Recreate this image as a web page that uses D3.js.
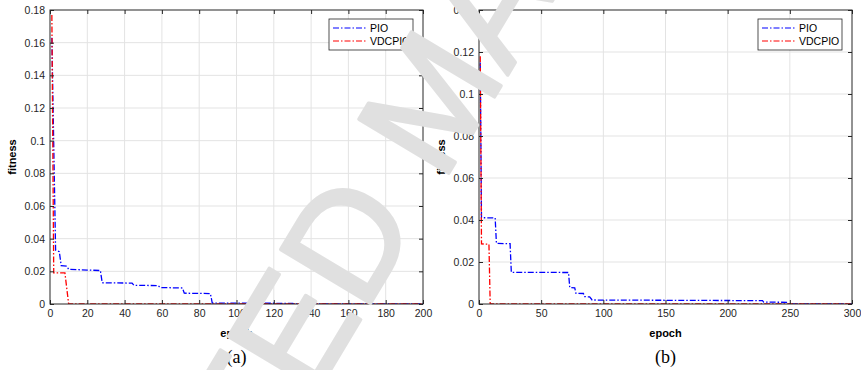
<!DOCTYPE html>
<html>
<head>
<meta charset="utf-8">
<script src="https://cdn.jsdelivr.net/npm/d3@7"></script>
<style>
  body { margin: 0; background: #fff; }
  text { font-family: "Liberation Sans", Arial, sans-serif; }
</style>
</head>
<body>
<div id="chart"></div>
<script>
const width = 861;
const height = 370;

// series data: [epoch, fitness] at each break point
const pioA = [[1,0.163],[3,0.033],[5,0.032],[6,0.0235],[9,0.0232],[10,0.0212],[20,0.0208],[27,0.0205],[28,0.013],[44,0.0128],[45,0.0114],[58,0.0113],[59,0.0101],[71,0.0098],[72,0.0066],[86,0.0064],[87,0.0006],[130,0.0004],[131,0.0001],[200,0.0001]];
const vdcA = [[1,0.177],[2,0.019],[8,0.019],[10,0],[200,0]];
const pioB = [[1,0.115],[2,0.0411],[13,0.041],[14,0.0289],[25,0.0287],[26,0.0151],[72,0.015],[73,0.0078],[77,0.0077],[78,0.0051],[84,0.005],[85,0.0035],[89,0.0034],[91,0.0019],[228,0.0016],[229,0.0009],[248,0.0008],[249,0.0001],[300,0.0001]];
const vdcB = [[1,0.118],[2,0.0286],[8,0.0285],[9,0],[300,0]];

const seriesNames = ["PIO", "VDCPIO"];
const seriesColors = ["#0000ff", "#ff0000"];

const xTicksA = d3.range(0, 201, 20);
const yTicksA = d3.range(0, 0.181, 0.02);
const xTicksB = d3.range(0, 301, 50);
const yTicksB = d3.range(0, 0.141, 0.02);

const panels = [
  { id: "a", left: 50, right: 423, xMax: 200, yMax: 0.18, xTicks: xTicksA, yTicks: yTicksA, series: [pioA, vdcA], caption: "(a)" },
  { id: "b", left: 479, right: 852, xMax: 300, yMax: 0.14, xTicks: xTicksB, yTicks: yTicksB, series: [pioB, vdcB], caption: "(b)" }
];
const plotTop = 10, plotBottom = 304;

const svg = d3.select("#chart")
    .append("svg")
    .attr("width", width)
    .attr("height", height);

const fmtY = d => d === 0 ? "0" : String(+d.toFixed(2));
const dash = "6,2,1.5,2";

panels.forEach(p => {
    const x = d3.scaleLinear().domain([0, p.xMax]).range([p.left, p.right]);
    const y = d3.scaleLinear().domain([0, p.yMax]).range([plotBottom, plotTop]);
    const g = svg.append("g");

    // grid
    g.append("g").selectAll("line").data(p.xTicks.slice(1, -1)).enter().append("line")
        .attr("x1", d => x(d)).attr("x2", d => x(d)).attr("y1", plotTop).attr("y2", plotBottom)
        .attr("stroke", "#e3e3e3").attr("stroke-width", 1);
    g.append("g").selectAll("line").data(p.yTicks.slice(1, -1)).enter().append("line")
        .attr("y1", d => y(d)).attr("y2", d => y(d)).attr("x1", p.left).attr("x2", p.right)
        .attr("stroke", "#e3e3e3").attr("stroke-width", 1);

    // lines
    g.append("clipPath").attr("id", "clip-" + p.id).append("rect")
        .attr("x", p.left).attr("y", plotTop).attr("width", p.right - p.left).attr("height", plotBottom - plotTop);
    const line = d3.line().x(d => x(d[0])).y(d => y(d[1]));
    p.series.forEach((s, i) => {
        g.append("path").datum(s)
            .attr("clip-path", `url(#clip-${p.id})`)
            .attr("d", line)
            .attr("fill", "none")
            .attr("stroke", seriesColors[i])
            .attr("stroke-width", 1.3)
            .attr("stroke-dasharray", dash);
    });

    // axes
    g.append("g").attr("transform", `translate(0,${plotBottom})`)
        .call(d3.axisBottom(x).tickValues(p.xTicks).tickSize(-4).tickPadding(6).tickFormat(d3.format("d")));
    g.append("g").attr("transform", `translate(${p.left},0)`)
        .call(d3.axisLeft(y).tickValues(p.yTicks).tickSize(-4).tickPadding(5).tickFormat(fmtY));
    g.append("g").attr("transform", `translate(0,${plotTop})`)
        .call(d3.axisTop(x).tickValues(p.xTicks).tickSize(-4).tickFormat(""));
    g.append("g").attr("transform", `translate(${p.right},0)`)
        .call(d3.axisRight(y).tickValues(p.yTicks).tickSize(-4).tickFormat(""));
    g.selectAll(".domain").remove();
    g.selectAll(".tick line").attr("stroke", "#262626");
    g.selectAll(".tick text").attr("fill", "#262626").style("font-size", "10.5px")
        .style("font-family", "'Liberation Sans', Arial, sans-serif");

    g.append("rect")
        .attr("x", p.left).attr("y", plotTop).attr("width", p.right - p.left).attr("height", plotBottom - plotTop)
        .attr("fill", "none").attr("stroke", "#262626").attr("stroke-width", 1);

    // axis titles
    g.append("text")
        .attr("transform", `translate(${p.left - 34},${(plotTop + plotBottom) / 2}) rotate(-90)`)
        .attr("text-anchor", "middle")
        .style("font-size", "11px").style("font-weight", "bold")
        .text("fitness");
    g.append("text")
        .attr("x", (p.left + p.right) / 2).attr("y", 337)
        .attr("text-anchor", "middle")
        .style("font-size", "11px").style("font-weight", "bold")
        .text("epoch");
    g.append("text")
        .attr("x", (p.left + p.right) / 2).attr("y", 363)
        .attr("text-anchor", "middle")
        .style("font-family", "'Liberation Serif', 'Times New Roman', serif")
        .style("font-size", "18px")
        .text(p.caption);

    // legend
    const lx = p.right - 94, ly = 19;
    const leg = g.append("g").attr("transform", `translate(${lx},${ly})`);
    leg.append("rect").attr("width", 84).attr("height", 31)
        .attr("fill", "#fff").attr("stroke", "#262626").attr("stroke-width", 0.8);
    seriesNames.forEach((name, i) => {
        leg.append("line")
            .attr("x1", 4).attr("x2", 37).attr("y1", 9 + i * 13).attr("y2", 9 + i * 13)
            .attr("stroke", seriesColors[i]).attr("stroke-width", 1.2)
            .attr("stroke-dasharray", dash);
        leg.append("text")
            .attr("x", 41).attr("y", 9 + i * 13).attr("dy", "0.35em")
            .style("font-size", "10.5px").attr("fill", "#000")
            .text(name);
    });
});

// watermark across the figure
const wm = svg.append("text")
    .style("font-family", "'Liberation Sans', Arial, sans-serif")
    .style("font-size", "152px")
    .attr("fill", "#e0e0e0")
    .attr("stroke", "#e0e0e0")
    .attr("stroke-width", 3.5)
    .attr("stroke-linejoin", "round")
    .text("ACCEPTED MANUSCRIPT");
const offD = wm.node().getSubStringLength(0, 7);
wm.attr("x", -offD).attr("transform", "translate(364,314) rotate(-59)");
</script>
</body>
</html>
